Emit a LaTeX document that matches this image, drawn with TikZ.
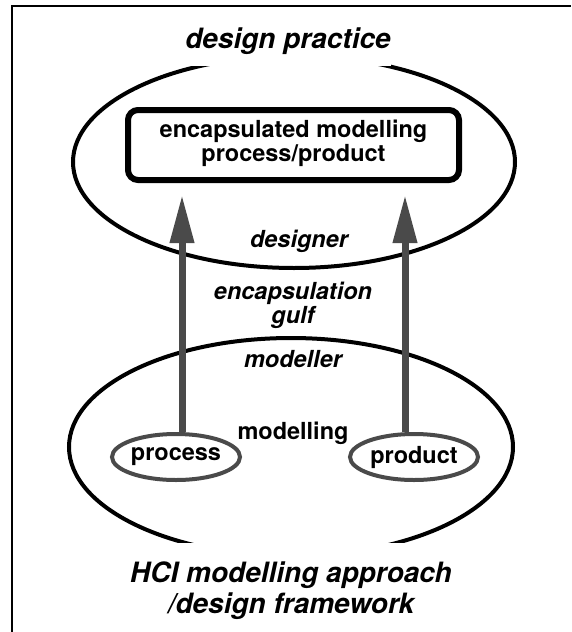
\documentclass[tikz,border=0pt]{standalone}
\usepackage{fontspec}
\setmainfont{TeX Gyre Heros}
\usetikzlibrary{shapes.geometric,arrows.meta}
\definecolor{gulfgray}{HTML}{4A4A4A}
\tikzset{
  world/.style={ellipse, draw, line width=4pt, inner sep=0pt},
  element/.style={ellipse, draw=gulfgray, line width=4pt, inner sep=0pt,
    minimum width=128pt, minimum height=46pt, font=\fontsize{23.5}{24}\selectfont\bfseries},
  encbox/.style={draw, line width=6pt, rounded corners=10pt, align=center,
    minimum width=331pt, minimum height=70pt, font=\fontsize{23.5}{24}\selectfont\bfseries},
  titletext/.style={fill=white, align=center, inner xsep=0pt,
    font=\fontsize{28}{31}\selectfont\bfseries\itshape},
  roletext/.style={align=center, inner sep=0pt, font=\fontsize{23.5}{24}\selectfont\bfseries\itshape},
  plaintext/.style={inner sep=0pt, font=\fontsize{23.5}{24}\selectfont\bfseries},
  gulfarrow/.style={draw=gulfgray, line width=7pt, -{Triangle[length=48pt,width=23pt,fill=gulfgray]}}
}
\begin{document}
\begin{tikzpicture}[x=1pt,y=-1pt]
  \useasboundingbox (0,0) rectangle (571,632);
  % frame
  \draw[line width=2pt] (12,632) -- (12,6) -- (571,6);

  % practice and approach
  \node[world, minimum width=442pt, minimum height=212pt] (practice) at (294,162) {};
  \node[world, minimum width=444pt, minimum height=218pt] (approach) at (291,447) {};
  \node[titletext, anchor=base, inner ysep=12pt] (practicetitle) at (288,48) {design practice};
  \node[titletext, anchor=base, inner ysep=18pt] (approachtitle) at (291,613) {HCI modelling approach\\/design framework};

  % encapsulated box
  \node[encbox] (encap) at (293.5,145) {encapsulated modelling\\process/product\rule[-8pt]{0pt}{0pt}};

  % modelling elements
  \node[element] (process) at (176,457) {process};
  \node[element] (product) at (414,457) {product};

  % roles
  \node[roletext, anchor=base] (designer) at (299,247) {designer};
  \node[roletext, anchor=base] (gulf) at (293,323) {encapsulation\\gulf};
  \node[roletext, anchor=base] (modeller) at (293,367) {modeller};
  \node[plaintext, anchor=base] (modelling) at (293,439) {modelling};

  % encapsulation arrows
  \coordinate (ptip) at (182,195);
  \coordinate (dtip) at (405,195);
  \draw[gulfarrow] (process.north -| ptip) -- (ptip);
  \draw[gulfarrow] (product.north -| dtip) -- (dtip);
\end{tikzpicture}
\end{document}
